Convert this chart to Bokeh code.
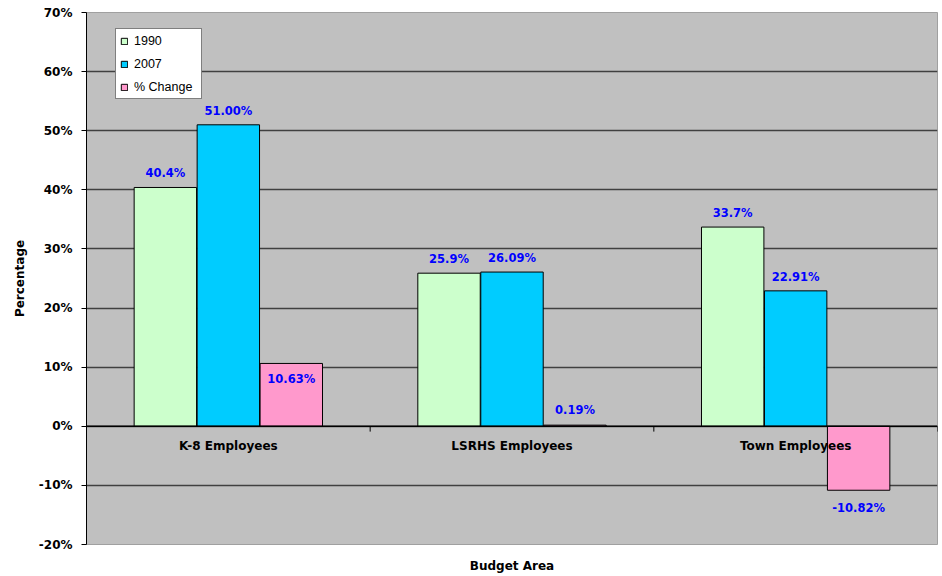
from bokeh.plotting import figure
from bokeh.models import Range1d, FixedTicker, NumeralTickFormatter, Span, Legend, LegendItem
from bokeh.core.properties import value
from bokeh.embed import file_html
from bokeh.resources import INLINE

# ---- data ----
categories = ["K-8 Employees", "LSRHS Employees", "Town Employees"]
series_names = ["1990", "2007", "% Change"]
values_1990 = [0.404, 0.259, 0.337]
values_2007 = [0.510, 0.2609, 0.2291]
values_change = [0.1063, 0.0019, -0.1082]
labels_1990 = ["40.4%", "25.9%", "33.7%"]
labels_2007 = ["51.00%", "26.09%", "22.91%"]
labels_change = ["10.63%", "0.19%", "-10.82%"]
y_ticks = [-0.2, -0.1, 0.0, 0.1, 0.2, 0.3, 0.4, 0.5, 0.6, 0.7]

# ---- styles ----
colors = ["#CCFFCC", "#00CCFF", "#FF99CC"]
offsets = [-0.222, 0.0, 0.222]
bar_w = 0.22
label_dy = [[-14, -14, -14], [-14, -14, -14], [16, -15, 18]]
BOLD_FONT = "DejaVu Sans"

n = len(categories)
p = figure(width=940, height=575,
           x_range=Range1d(0, n), y_range=Range1d(y_ticks[0], y_ticks[-1]),
           output_backend="svg", toolbar_location=None,
           min_border_left=86, min_border_right=3, min_border_top=12, min_border_bottom=30)
p.background_fill_color = "#C0C0C0"
p.border_fill_color = "white"
p.outline_line_color = "#A0A0A0"
p.outline_line_width = 1

# y axis
p.yaxis.ticker = FixedTicker(ticks=y_ticks)
p.yaxis.formatter = NumeralTickFormatter(format="0%")
p.yaxis.axis_line_color = "black"
p.yaxis.major_tick_line_color = "black"
p.yaxis.major_tick_out = 5
p.yaxis.major_tick_in = 0
p.yaxis.minor_tick_line_color = None
p.yaxis.major_label_text_font = BOLD_FONT
p.yaxis.major_label_text_font_style = "bold"
p.yaxis.major_label_text_font_size = "12px"
p.yaxis.major_label_text_color = "black"
p.yaxis.major_label_standoff = 9
p.yaxis.axis_label = "Percentage"
p.yaxis.axis_label_text_font = BOLD_FONT
p.yaxis.axis_label_text_font_style = "bold"
p.yaxis.axis_label_text_font_size = "12px"
p.yaxis.axis_label_text_color = "black"
p.yaxis.axis_label_standoff = 9

# x axis (title only)
p.xaxis.ticker = FixedTicker(ticks=[])
p.xaxis.axis_line_color = None
p.xaxis.major_tick_line_color = None
p.xaxis.minor_tick_line_color = None
p.xaxis.major_label_text_font_size = "0px"
p.xaxis.axis_label = "Budget Area"
p.xaxis.axis_label_text_font = BOLD_FONT
p.xaxis.axis_label_text_font_style = "bold"
p.xaxis.axis_label_text_font_size = "12px"
p.xaxis.axis_label_text_color = "black"
p.xaxis.axis_label_standoff = 14

# grid
p.xgrid.grid_line_color = None
p.ygrid.ticker = FixedTicker(ticks=y_ticks[:-1])
p.ygrid.grid_line_color = "#404040"
p.ygrid.grid_line_width = 1.5

# bars
series_vals = [values_1990, values_2007, values_change]
series_labels = [labels_1990, labels_2007, labels_change]
items = []
for s in range(3):
    xs = [i + 0.5 + offsets[s] for i in range(n)]
    r = p.vbar(x=xs, top=series_vals[s], bottom=0, width=bar_w,
               fill_color=colors[s], line_color="black", line_width=1)
    items.append(LegendItem(label=series_names[s], renderers=[r]))

# zero line (category axis) and its tick marks between categories
p.add_layout(Span(location=0, dimension="width", line_color="black", line_width=1.5))
bx = [i + 1 for i in range(n)]
p.segment(x0=bx, y0=[0] * n, x1=bx, y1=[-0.009] * n, line_color="black", line_width=1)

# value labels
for s in range(3):
    xs = [i + 0.5 + offsets[s] for i in range(n)]
    p.text(x=xs, y=series_vals[s], text=series_labels[s], y_offset=label_dy[s],
           text_color="#0000FF", text_font=value(BOLD_FONT), text_font_style="bold",
           text_font_size="11.5px", text_align="center", text_baseline="middle")

# category labels at the zero line
p.text(x=[i + 0.5 for i in range(n)], y=[0] * n, text=categories, y_offset=20,
       text_color="black", text_font=value(BOLD_FONT), text_font_style="bold",
       text_font_size="12px", text_align="center", text_baseline="middle")

legend = Legend(items=items, location=(29, 445))
legend.border_line_color = "black"
legend.border_line_width = 1
legend.background_fill_color = "white"
legend.background_fill_alpha = 1
legend.label_text_font = "Liberation Sans"
legend.label_text_font_size = "12.5px"
legend.label_text_color = "black"
legend.glyph_width = 8
legend.glyph_height = 8
legend.label_standoff = 6
legend.label_width = 63
legend.padding = 4
legend.spacing = 8
legend.label_height = 15
legend.margin = 0
p.add_layout(legend)

open("out.html", "w").write(file_html(p, INLINE))
